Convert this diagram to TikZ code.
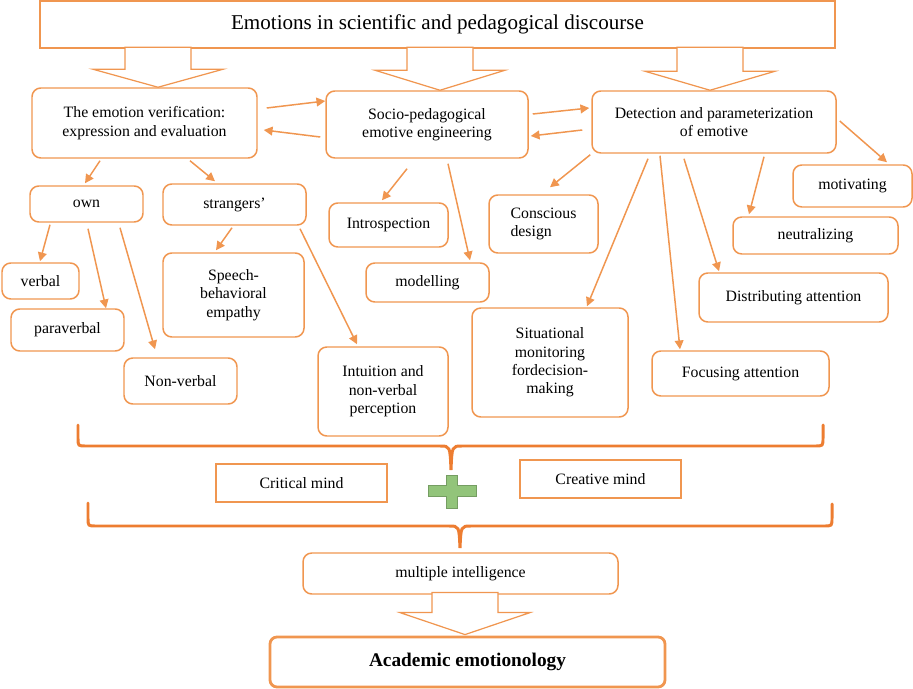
\documentclass[tikz,border=0pt]{standalone}
\usepackage{fontspec}
\setmainfont{Liberation Serif}
\usetikzlibrary{arrows.meta,calc}

\definecolor{boxorange}{RGB}{240,150,80}
\definecolor{braceorange}{RGB}{237,125,49}
\definecolor{plusgreen}{RGB}{146,196,122}

% hollow block arrow: tip, head height, shaft length
\newcommand\blockarrow[3]{\draw[hollow] (#1) -- ++(-65,-#2) -- ++(32,0) -- ++(0,-#3) -- ++(66,0) -- ++(0,#3) -- ++(32,0) -- cycle;}

\begin{document}
\begin{tikzpicture}[x=0.02cm,y=-0.02cm,
  box/.style={draw=boxorange, line width=0.85pt, rounded corners=5pt, align=center, inner sep=2pt, font=\fontsize{9}{10.5}\selectfont},
  plainbox/.style={draw=boxorange, line width=0.6pt, align=center, font=\fontsize{9}{10.5}\selectfont},
  wh/.style 2 args={minimum width=#1*0.02cm, minimum height=#2*0.02cm},
  arr/.style={draw=boxorange, line width=0.85pt, -{Triangle[length=5pt,width=5pt]}},
  hollow/.style={draw=boxorange, line width=0.7pt, fill=white},
  brace/.style={draw=braceorange, line width=1.7pt, line cap=round}]
\useasboundingbox (0,0) rectangle (913,689);

% top level
\node[box, rounded corners=0pt, line width=1.1pt, wh={795}{47}, font=\fontsize{12}{14}\selectfont] (title) at (437.5,24.5) {Emotions in scientific and pedagogical discourse};
\node[box, wh={225}{70}] (verif) at (144.5,123) {The emotion verification:\\expression and evaluation};
\node[box, wh={202}{67}] (socio) at (427,124.5) {Socio-pedagogical\\emotive engineering};
\node[box, wh={244}{62}] (detect) at (714,122) {Detection and parameterization\\of emotive};

\blockarrow{$(verif.north)+(13.5,0)$}{18}{22}
\blockarrow{$(socio.north)+(13,0)$}{20}{23}
\blockarrow{$(detect.north)+(-4,0)$}{19}{24}

% second level
\node[box, wh={113}{36}] (own) at (86.5,204) {own};
\node[box, wh={143}{41}] (strangers) at (234.5,204.5) {strangers’};
\node[box, wh={77}{36}] (verbal) at (40.5,281) {verbal};
\node[box, wh={113}{42}] (paraverbal) at (67.5,330) {paraverbal};
\node[box, wh={113}{46}] (nonverbal) at (180.5,381) {Non-verbal};
\node[box, wh={141}{84}] (speech) at (233.5,295) {Speech-\\behavioral\\empathy};
\node[box, wh={119}{44}] (intro) at (388.5,225) {Introspection};
\node[box, wh={123}{39}] (model) at (427.5,282.5) {modelling};
\node[box, wh={130}{89}] (intuition) at (383,391.5) {Intuition and\\non-verbal\\perception};
\node[box, wh={109}{58}, align=left] (conscious) at (543.5,224) {Conscious\\design};
\node[box, wh={156}{109}] (situational) at (550,362.5) {Situational\\monitoring\\fordecision-\\making};
\node[box, wh={119}{42}] (motiv) at (852.5,186) {motivating};
\node[box, wh={165}{37}] (neutral) at (815.5,235.5) {neutralizing};
\node[box, wh={189}{49}] (distrib) at (793.5,297.5) {Distributing attention};
\node[box, wh={177}{45}] (focus) at (740.5,373.5) {Focusing attention};

% connectors
\draw[arr] ($(verif.east)+(9,-15)$) -- ($(socio.west)+(0,-23.5)$);
\draw[arr] ($(socio.west)+(-5,12.5)$) -- ($(verif.east)+(6,7)$);
\draw[arr] ($(socio.east)+(4,-10.5)$) -- ($(detect.west)+(-2,-14)$);
\draw[arr] ($(detect.west)+(-9,8)$) -- ($(socio.east)+(2,11.5)$);
\draw[arr] ($(verif.south)+(-44.5,2)$) -- ($(own.north)+(-1.5,-2)$);
\draw[arr] ($(verif.south)+(45.5,2)$) -- ($(strangers.north)+(-19.5,-2)$);
\draw[arr] ($(own.south)+(-36.5,2)$) -- ($(verbal.north)+(-0.5,-1)$);
\draw[arr] ($(own.south)+(1.5,6)$) -- ($(paraverbal.north)+(38.5,0)$);
\draw[arr] ($(own.south)+(33.5,5)$) -- ($(nonverbal.north)+(-25.5,-8)$);
\draw[arr] ($(strangers.south)+(-2.5,2)$) -- ($(speech.north)+(-17.5,-2)$);
\draw[arr] ($(strangers.south)+(65.5,3)$) -- ($(intuition.north)+(-26,-2)$);
\draw[arr] ($(socio.south)+(-20,10)$) -- ($(intro.north)+(-6.5,-2)$);
\draw[arr] ($(socio.south)+(21,5)$) -- ($(model.north)+(42.5,-2)$);
\draw[arr] ($(detect.south west)+(-1,1)$) -- ($(conscious.north)+(6.5,-7)$);
\draw[arr] ($(detect.south)+(-66,5)$) -- ($(situational.north)+(37,-1)$);
\draw[arr] ($(detect.south)+(-54,2)$) -- ($(focus.north)+(-60.5,-1)$);
\draw[arr] ($(detect.south)+(-30,5)$) -- ($(distrib.north)+(-74.5,-1)$);
\draw[arr] ($(detect.south)+(50,3)$) -- ($(neutral.north)+(-66.5,-2)$);
\draw[arr] ($(detect.east)+(3,-1)$) -- ($(motiv.north)+(34.5,-2)$);

% braces and minds
\draw[brace] (78,425) -- (78,438) .. controls (78,446) .. (86,446) -- (440,446) .. controls (450,446) .. (451,470) .. controls (452,446) .. (462,446) -- (815,446) .. controls (823,446) .. (823,438) -- (823,425);
\node[plainbox, wh={171}{38}] (critical) at (301.5,483) {Critical mind};
\node[plainbox, wh={161}{38}] (creative) at (600.5,479) {Creative mind};
\filldraw[fill=plusgreen, draw=plusgreen!80!black, line width=0.4pt] (446.5,475) -- (457.5,475) -- (457.5,485.5) -- (476,485.5) -- (476,496.5) -- (457.5,496.5) -- (457.5,508) -- (446.5,508) -- (446.5,496.5) -- (428,496.5) -- (428,485.5) -- (446.5,485.5) -- cycle;
\draw[brace] (88,503) -- (88,518) .. controls (88,526) .. (96,526) -- (449,526) .. controls (459,526) .. (460,548) .. controls (461,526) .. (471,526) -- (824,526) .. controls (832,526) .. (832,518) -- (832,504);

% bottom
\node[box, wh={315}{41}] (multi) at (460.5,573.5) {multiple intelligence};
\node[box, line width=1.6pt, rounded corners=4pt, wh={395}{50}, font=\fontsize{11}{13}\selectfont\bfseries] (acad) at (467.5,662) {Academic emotionology};
\blockarrow{$(acad.north)+(-2.5,-1)$}{22}{20}
\end{tikzpicture}
\end{document}
